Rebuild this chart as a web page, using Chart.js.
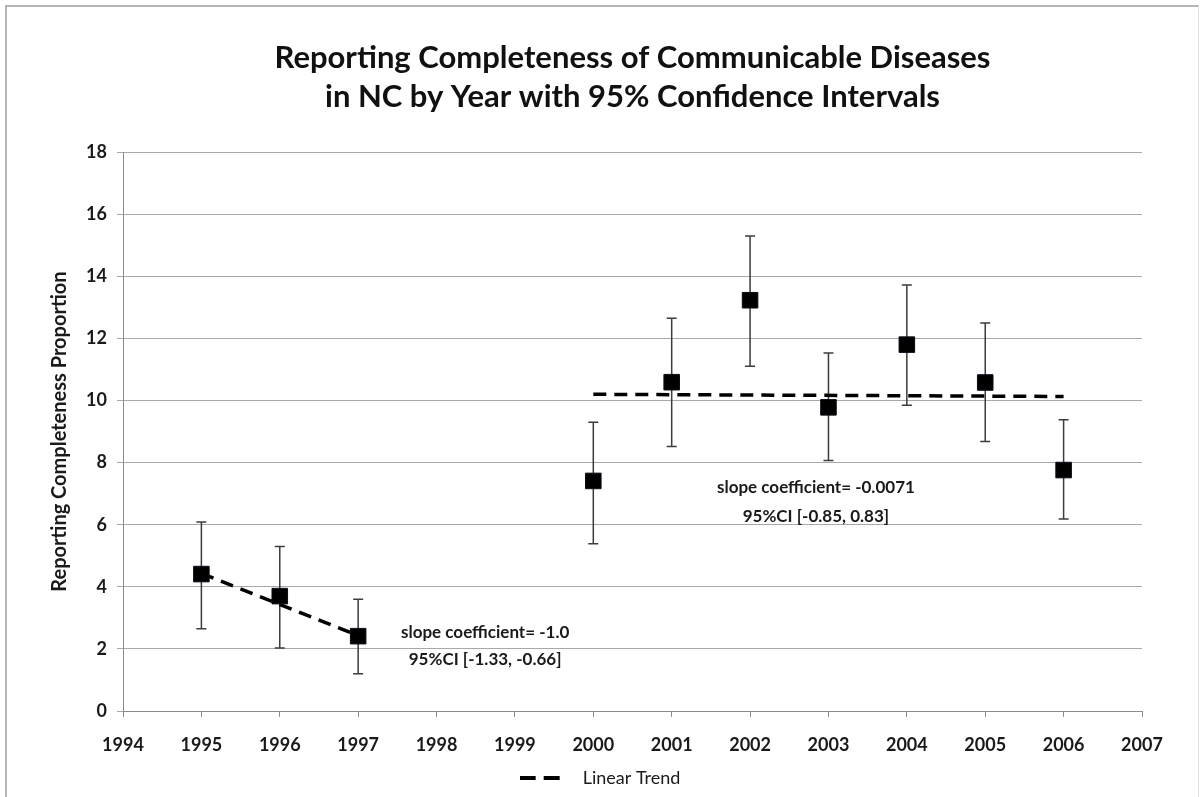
<!DOCTYPE html>
<html>
<head>
<meta charset="utf-8">
<script src="https://cdn.jsdelivr.net/npm/chart.js@4.4.1/dist/chart.umd.min.js"></script>
<style>
html,body{margin:0;padding:0;background:#fff;}
#wrap{position:relative;width:1201px;height:797px;overflow:hidden;}
#c{position:absolute;left:0;top:0;}
#frame{position:absolute;left:5px;top:5px;width:1194px;height:820px;border-top:2px solid #b4b4b4;border-left:2px solid #b4b4b4;border-right:1px solid #e2e2e2;box-sizing:border-box;pointer-events:none;}
</style>
</head>
<body>
<div id="wrap"><canvas id="c" width="1201" height="797"></canvas><div id="frame"></div></div>
<script>
// ---- data ----
const yearLabels = ['1994','1995','1996','1997','1998','1999','2000','2001','2002','2003','2004','2005','2006','2007'];
const pointYears = ['1995','1996','1997','2000','2001','2002','2003','2004','2005','2006'];
const completeness = [4.41, 3.70, 2.41, 7.41, 10.59, 13.23, 9.78, 11.80, 10.58, 7.76];
const ciLower = [2.65, 2.03, 1.20, 5.39, 8.52, 11.10, 8.07, 9.85, 8.68, 6.18];
const ciUpper = [6.09, 5.30, 3.60, 9.30, 12.65, 15.30, 11.53, 13.72, 12.50, 9.38];
const trend1Years = ['1995','1997'];
const trend1Values = [4.43, 2.43];
const trend2Years = ['2000','2006'];
const trend2Values = [10.20, 10.13];
const yTickValues = [0, 2, 4, 6, 8, 10, 12, 14, 16, 18];
const titleLines = ['Reporting Completeness of Communicable Diseases', 'in NC by Year with 95% Confidence Intervals'];
const yAxisTitle = 'Reporting Completeness Proportion';
const legendLabel = 'Linear Trend';
const note1Lines = ['slope coefficient= -1.0', '95%CI [-1.33, -0.66]'];
const note2Lines = ['slope coefficient= -0.0071', '95%CI [-0.85, 0.83]'];

const FONT = 'Lato';
const TREND_DASH = [13, 8];

const pointData = pointYears.map((yr, i) => ({x: yr, y: completeness[i]}));
const trend1Data = trend1Years.map((yr, i) => ({x: yr, y: trend1Values[i]}));
const trend2Data = trend2Years.map((yr, i) => ({x: yr, y: trend2Values[i]}));

// dashed legend sample
const dashSample = document.createElement('canvas');
dashSample.width = 58; dashSample.height = 8;
(function(){
  const g = dashSample.getContext('2d');
  g.strokeStyle = '#000';
  g.lineWidth = 4;
  g.setLineDash([16, 8]);
  g.beginPath(); g.moveTo(0, 4); g.lineTo(40, 4); g.stroke();
})();

const errorBarPlugin = {
  id: 'errorBars',
  beforeDatasetsDraw(chart) {
    const {ctx, scales: {x, y}} = chart;
    ctx.save();
    ctx.strokeStyle = '#3c3c3c';
    ctx.lineWidth = 1.5;
    const cap = 5;
    pointYears.forEach((yr, i) => {
      const px = x.getPixelForValue(yearLabels.indexOf(yr));
      const pLo = y.getPixelForValue(ciLower[i]);
      const pHi = y.getPixelForValue(ciUpper[i]);
      ctx.beginPath();
      ctx.moveTo(px, pLo); ctx.lineTo(px, pHi);
      ctx.moveTo(px - cap, pLo); ctx.lineTo(px + cap, pLo);
      ctx.moveTo(px - cap, pHi); ctx.lineTo(px + cap, pHi);
      ctx.stroke();
    });
    ctx.restore();
  }
};

const notesPlugin = {
  id: 'notes',
  afterDatasetsDraw(chart, args, opts) {
    const {ctx, scales: {x, y}} = chart;
    ctx.save();
    ctx.fillStyle = '#1a1a1a';
    ctx.font = 'bold 17px ' + FONT;
    ctx.textAlign = 'center';
    ctx.textBaseline = 'middle';
    opts.items.forEach(item => {
      const px = x.getPixelForValue(item.xIndex);
      item.lines.forEach((line, j) => {
        ctx.fillText(line, px, y.getPixelForValue(item.yValues[j]));
      });
    });
    ctx.restore();
  }
};

new Chart(document.getElementById('c'), {
  type: 'line',
  data: {
    labels: yearLabels,
    datasets: [
      {
        label: 'Completeness',
        data: pointData,
        showLine: false,
        pointStyle: 'rect',
        pointRadius: 11,
        pointHoverRadius: 11,
        backgroundColor: '#000000',
        borderColor: '#0b0b18',
        pointBorderWidth: 1,
        order: 0
      },
      {
        label: legendLabel,
        data: trend1Data,
        borderColor: '#000000',
        backgroundColor: '#000000',
        borderWidth: 3.5,
        borderDash: TREND_DASH,
        pointRadius: 0,
        fill: false,
        order: 1
      },
      {
        label: legendLabel + ' 2',
        data: trend2Data,
        borderColor: '#000000',
        backgroundColor: '#000000',
        borderWidth: 3.5,
        borderDash: TREND_DASH,
        pointRadius: 0,
        fill: false,
        order: 1
      }
    ]
  },
  options: {
    responsive: false,
    animation: false,
    events: [],
    layout: {padding: {left: 62, right: 59, top: 0, bottom: 0}},
    scales: {
      x: {
        type: 'category',
        offset: false,
        grid: {display: true, drawOnChartArea: false, drawTicks: true, tickLength: 6, color: '#8c8c8c', lineWidth: 1},
        border: {display: true, color: '#8c8c8c', width: 1},
        ticks: {color: '#1a1a1a', font: {family: FONT, size: 18, weight: 'bold'}, padding: 17, maxRotation: 0, autoSkip: false},
        afterFit(scale) { scale.height = 58; }
      },
      y: {
        min: 0,
        max: 18,
        afterBuildTicks(scale) { scale.ticks = yTickValues.map(v => ({value: v})); },
        grid: {color: '#a8a8a8', lineWidth: 1, tickLength: 6, drawTicks: true},
        border: {display: true, color: '#8c8c8c', width: 1},
        ticks: {color: '#1a1a1a', font: {family: FONT, size: 18, weight: 'bold'}, padding: 10},
        title: {display: true, text: yAxisTitle, color: '#1a1a1a', font: {family: FONT, size: 20, weight: 'bold'}, padding: {top: -14, bottom: 0}},
        afterFit(scale) { scale.width = 61; }
      }
    },
    plugins: {
      title: {
        display: true,
        text: titleLines,
        fullSize: false,
        color: '#111111',
        font: {family: FONT, size: 31, weight: 'bold', lineHeight: 1.26},
        padding: {top: 38, bottom: 36}
      },
      legend: {
        display: true,
        position: 'bottom',
        labels: {
          usePointStyle: true,
          pointStyleWidth: 50,
          color: '#1a1a1a',
          font: {family: FONT, size: 18},
          padding: 0,
          generateLabels: () => [{
            text: legendLabel,
            pointStyle: dashSample,
            fillStyle: '#000',
            strokeStyle: '#000',
            lineWidth: 0,
            hidden: false,
            datasetIndex: 1,
            fontColor: '#1a1a1a'
          }]
        }
      },
      tooltip: {enabled: false},
      notes: {
        items: [
          {lines: note1Lines, xIndex: 4.62, yValues: [2.52, 1.65]},
          {lines: note2Lines, xIndex: 8.84, yValues: [7.19, 6.26]}
        ]
      }
    }
  },
  plugins: [errorBarPlugin, notesPlugin]
});
</script>
</body>
</html>
